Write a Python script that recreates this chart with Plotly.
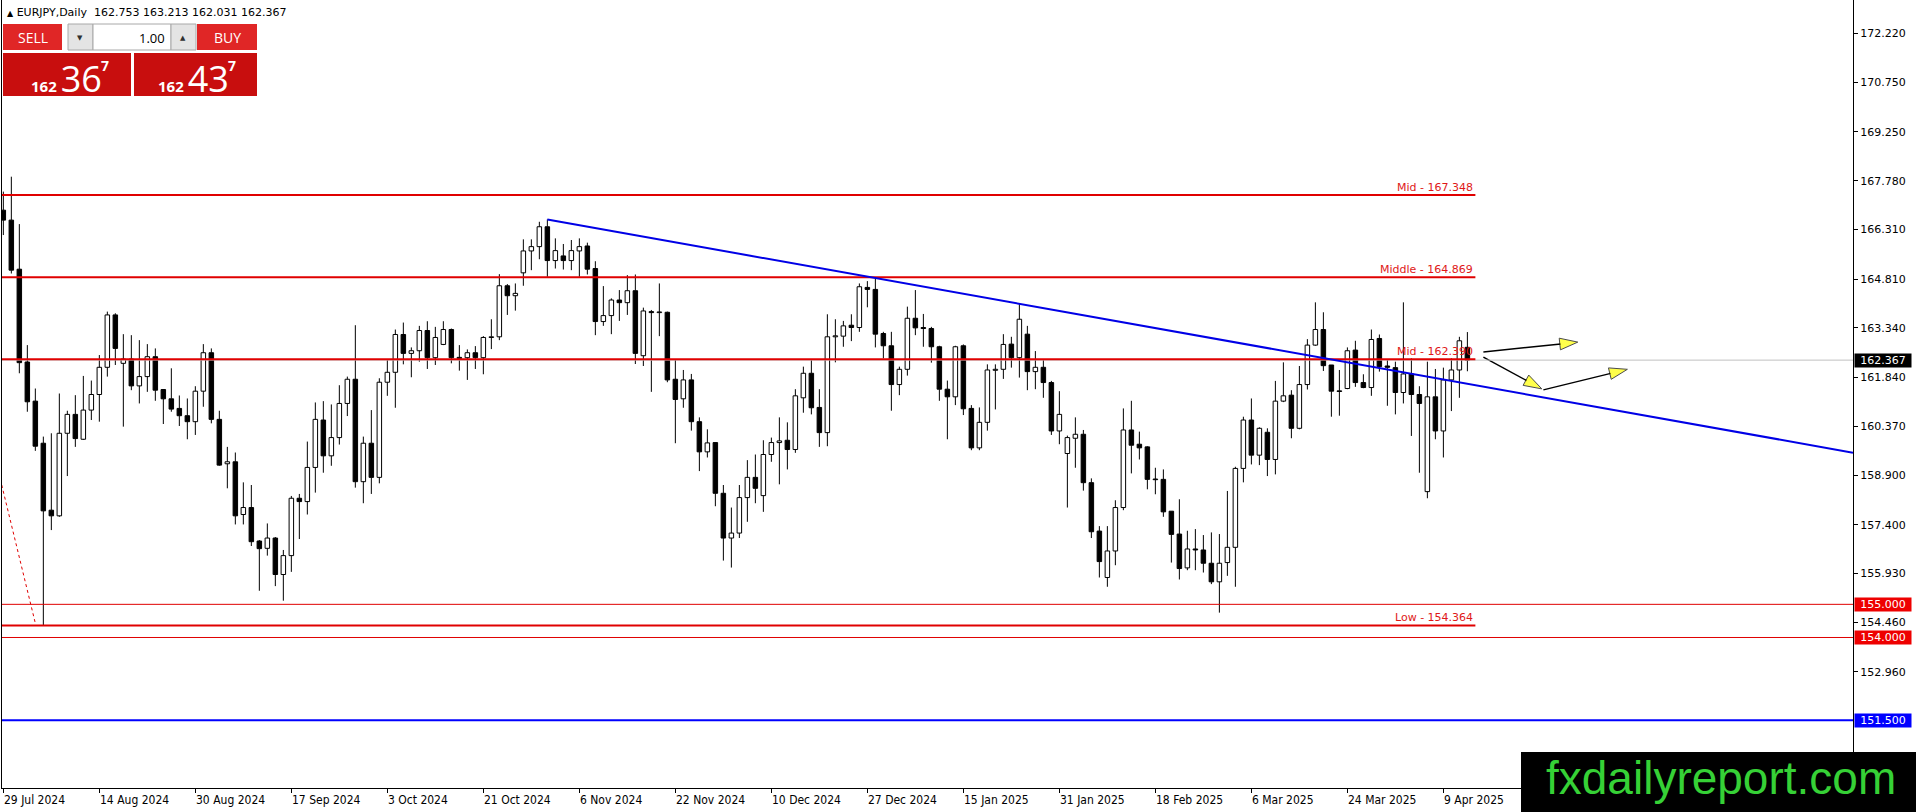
import numpy as np
import plotly.graph_objects as go

# ---------------- data ----------------
symbol = "EURJPY,Daily"

opens = [
    166.89, 166.59, 165.11, 162.31, 161.13, 159.86, 157.84, 157.67, 160.16, 160.73,
    159.98, 160.86, 161.33, 162.15, 163.73, 162.27, 162.40, 161.59, 161.87, 162.47,
    161.48, 161.20, 160.91, 160.69, 160.51, 161.43, 162.59, 160.58, 159.24, 159.30,
    157.71, 157.92, 156.91, 156.69, 157.00, 155.90, 156.47, 158.20, 158.10, 159.13,
    160.56, 159.48, 160.03, 161.06, 161.79, 158.70, 159.86, 158.83, 161.70, 162.00,
    163.14, 162.57, 162.65, 163.26, 162.44, 162.84, 163.29, 162.45, 162.44, 162.59,
    162.44, 163.05, 163.07, 164.61, 164.31, 165.00, 165.66, 165.79, 166.39, 165.37,
    165.51, 165.37, 165.66, 165.81, 165.13, 163.53, 163.71, 164.18, 164.10, 164.46,
    162.50, 163.83, 163.80, 163.81, 161.79, 161.20, 161.77, 160.51, 159.60, 159.88,
    158.35, 157.00, 157.15, 158.22, 158.83, 158.28, 159.52, 159.88, 159.95, 159.67,
    161.23, 161.97, 160.94, 160.18, 163.07, 163.09, 163.42, 163.35, 164.56, 164.50,
    163.17, 162.80, 161.63, 162.09, 163.63, 163.35, 163.32, 162.77, 161.49, 161.26,
    162.80, 160.91, 159.72, 160.49, 162.06, 162.09, 162.85, 162.44, 163.15, 162.02,
    162.15, 161.69, 160.23, 159.55, 160.01, 160.13, 158.67, 157.21, 155.81, 156.61,
    157.92, 160.26, 159.83, 159.75, 158.78, 158.77, 157.81, 157.12, 156.10, 156.67,
    156.64, 156.24, 155.68, 156.26, 156.72, 159.10, 160.56, 159.50, 160.19, 159.37,
    161.13, 161.31, 160.31, 161.63, 162.82, 163.29, 162.22, 161.44, 161.51, 162.67,
    161.69, 161.54, 163.02, 162.19, 162.14, 161.39, 161.95, 161.33, 158.40, 161.26,
    160.23, 161.77, 162.07, 162.753,
]
highs = [
    167.45, 167.90, 166.47, 162.82, 161.51, 160.06, 160.16, 161.36, 160.84, 161.31,
    161.89, 161.75, 162.52, 163.83, 163.78, 163.15, 163.12, 162.97, 162.85, 162.72,
    161.48, 162.12, 161.30, 161.21, 161.58, 162.85, 162.72, 160.84, 159.75, 159.58,
    158.68, 158.60, 156.94, 157.44, 157.03, 156.64, 158.27, 158.33, 159.91, 161.09,
    161.13, 161.03, 161.61, 161.87, 163.42, 160.06, 160.86, 161.82, 162.37, 163.29,
    163.50, 162.75, 163.40, 163.54, 163.37, 163.54, 163.32, 162.82, 162.69, 162.79,
    163.09, 163.60, 164.96, 164.66, 164.68, 166.01, 166.01, 166.54, 166.61, 166.04,
    165.87, 165.99, 166.04, 165.91, 165.35, 164.60, 164.23, 164.48, 164.93, 164.95,
    163.95, 163.88, 164.68, 163.83, 162.39, 162.07, 161.95, 160.64, 160.28, 159.88,
    158.60, 157.92, 158.60, 159.35, 159.52, 159.95, 160.03, 160.64, 160.49, 161.49,
    162.17, 162.37, 161.49, 163.75, 163.60, 163.55, 163.75, 164.68, 164.75, 164.85,
    163.22, 163.22, 162.17, 163.98, 164.48, 163.76, 163.37, 162.80, 161.75, 162.80,
    162.84, 161.01, 160.94, 162.24, 162.24, 163.15, 163.07, 164.06, 163.40, 162.64,
    162.39, 161.74, 161.43, 160.09, 160.64, 160.26, 158.80, 157.36, 157.36, 158.14,
    160.91, 161.14, 160.21, 159.77, 159.12, 159.07, 157.81, 158.17, 157.22, 157.27,
    157.09, 157.17, 157.12, 158.42, 159.15, 160.66, 161.21, 160.34, 160.31, 161.74,
    162.30, 161.46, 162.19, 163.00, 164.11, 163.81, 162.22, 162.07, 162.75, 162.95,
    161.94, 163.29, 163.14, 162.39, 162.32, 164.11, 162.42, 161.58, 162.32, 162.10,
    162.14, 162.42, 163.07, 163.213,
]
lows = [
    166.14, 164.98, 161.97, 160.81, 159.63, 154.364, 157.24, 157.64, 158.87, 159.75,
    159.96, 160.56, 160.51, 161.87, 162.22, 160.36, 161.46, 161.06, 161.41, 161.14,
    160.44, 160.81, 160.38, 159.98, 160.11, 160.96, 160.46, 159.18, 158.50, 157.41,
    157.41, 156.76, 155.41, 156.47, 155.55, 155.11, 155.98, 156.97, 157.71, 158.37,
    158.97, 159.18, 159.82, 160.68, 158.52, 158.05, 158.33, 158.65, 161.29, 160.93,
    162.24, 161.85, 162.32, 162.10, 162.22, 162.82, 162.27, 162.05, 161.77, 162.10,
    161.94, 162.70, 162.97, 163.73, 163.86, 164.61, 165.08, 165.41, 164.88, 165.13,
    165.10, 165.08, 164.88, 164.95, 163.12, 163.40, 163.15, 163.55, 163.73, 162.25,
    162.19, 161.41, 163.09, 161.70, 159.86, 160.93, 160.24, 159.02, 159.43, 157.96,
    156.32, 156.11, 157.00, 157.49, 158.05, 157.79, 159.30, 158.62, 159.07, 159.57,
    160.78, 160.73, 159.75, 159.77, 162.30, 162.77, 162.94, 163.22, 163.96, 162.75,
    162.42, 160.84, 161.31, 161.90, 163.12, 162.77, 162.29, 161.14, 159.98, 161.01,
    160.71, 159.65, 159.65, 160.24, 160.88, 161.80, 162.14, 161.84, 161.46, 161.49,
    161.23, 160.11, 159.83, 157.92, 159.12, 158.43, 157.00, 155.81, 155.53, 156.18,
    157.84, 158.95, 159.37, 158.47, 158.32, 157.64, 156.26, 155.75, 156.03, 156.03,
    155.96, 155.61, 154.75, 155.86, 155.53, 158.68, 159.22, 159.20, 158.87, 158.92,
    161.10, 160.01, 160.28, 161.48, 162.80, 162.04, 160.66, 160.69, 161.49, 161.56,
    161.52, 161.29, 162.02, 160.99, 160.73, 161.06, 160.08, 158.97, 158.20, 159.98,
    159.43, 160.83, 161.23, 162.031,
]
closes = [
    166.59, 165.08, 162.29, 161.11, 159.77, 157.82, 157.67, 160.16, 160.73, 160.00,
    160.86, 161.33, 162.15, 163.73, 162.72, 162.40, 161.59, 161.87, 162.47, 161.46,
    161.20, 160.89, 160.69, 160.51, 161.43, 162.59, 160.58, 159.20, 159.30, 157.67,
    157.92, 156.89, 156.68, 157.00, 155.90, 156.47, 158.20, 158.10, 159.13, 160.58,
    159.48, 160.03, 161.06, 161.79, 158.70, 159.86, 158.83, 161.70, 162.00, 163.14,
    162.57, 162.65, 163.26, 162.44, 163.05, 163.29, 162.44, 162.42, 162.59, 162.44,
    163.05, 163.07, 164.61, 164.31, 164.38, 165.66, 165.79, 166.39, 165.37, 165.67,
    165.37, 165.67, 165.79, 165.11, 163.53, 163.71, 164.18, 164.10, 164.46, 162.57,
    163.85, 163.80, 163.81, 161.77, 161.18, 161.77, 160.51, 159.60, 159.87, 158.35,
    157.00, 157.15, 158.22, 158.83, 158.50, 159.52, 159.88, 159.93, 159.67, 161.29,
    161.97, 160.93, 160.18, 163.07, 163.10, 163.40, 163.35, 164.58, 164.50, 163.15,
    162.80, 161.63, 162.09, 163.63, 163.34, 163.32, 162.77, 161.49, 161.26, 162.77,
    160.90, 159.72, 160.49, 162.07, 162.09, 162.84, 162.44, 163.60, 162.02, 162.15,
    161.69, 160.23, 160.73, 160.03, 160.13, 158.67, 157.19, 156.29, 156.61, 157.92,
    160.26, 159.80, 159.72, 158.77, 158.76, 157.79, 157.11, 156.08, 156.67, 156.64,
    156.24, 155.68, 156.24, 156.72, 159.10, 160.56, 159.50, 160.31, 159.37, 161.13,
    161.29, 160.31, 161.63, 162.82, 163.29, 162.20, 161.43, 161.42, 162.65, 161.69,
    161.54, 162.99, 162.17, 162.15, 161.39, 161.95, 161.33, 161.06, 161.26, 160.23,
    161.77, 162.07, 162.95, 162.367,
]

# date labels under the chart, one every 12 bars starting at bar 0
date_labels = ["29 Jul 2024", "14 Aug 2024", "30 Aug 2024", "17 Sep 2024", "3 Oct 2024",
               "21 Oct 2024", "6 Nov 2024", "22 Nov 2024", "10 Dec 2024", "27 Dec 2024",
               "15 Jan 2025", "31 Jan 2025", "18 Feb 2025", "6 Mar 2025", "24 Mar 2025",
               "9 Apr 2025"]
date_step = 12

price_ticks = [172.220, 170.750, 169.250, 167.780, 166.310, 164.810, 163.340,
               161.840, 160.370, 158.900, 157.400, 155.930, 154.460, 152.960]

level_names = ["Mid", "Middle", "Mid", "Low"]
level_values = [167.348, 164.869, 162.390, 154.364]
support_values = [155.000, 154.000]
blue_level = 151.500
last_price = 162.367
bid_parts = ["162", "36", "7"]
ask_parts = ["162", "43", "7"]
lot_size = "1.00"

# trend line anchors (bar index, price)
trend_x = [68, 184]
trend_y = [166.61, 161.61]
# dotted red line at the far left (bar index, price)
dot_x = [-0.2, 3.96]
dot_y = [158.60, 154.47]
# projection arrows drawn on the right: (bar, price) paths
arrow_paths = [
    ([185.0, 196.8], [162.61, 162.91]),
    ([185.0, 192.3], [162.46, 161.50]),
    ([192.5, 203.0], [161.47, 162.09]),
]

# ---------------- layout geometry ----------------
W, H = 1916, 812
PL, PR, PT, PB = 2, 1853, 0, 788          # plot frame in pixels
X_RANGE = [-0.166, 231.2]
Y_RANGE = [149.46, 173.23]


def fx(px):
    return (px - PL) / (PR - PL)


def fy(py):
    return 1 - (py - PT) / (PB - PT)


RED = "#E00000"
BLUE = "#0000E6"
BASE_FONT = "DejaVu Sans, Verdana, sans-serif"
NARROW_FONT = "Liberation Sans Narrow, DejaVu Sans Condensed, Arial Narrow, sans-serif"
UI_FONT = "Open Sans, Noto Sans, sans-serif"

o = np.array(opens)
h = np.array(highs)
l = np.array(lows)
c = np.array(closes)
idx = np.arange(len(o))
up = c >= o
body_lo = np.minimum(o, c)
body_hi = np.maximum(o, c)
body_h = np.maximum(body_hi - body_lo, 0.02)

# wicks: above and below the body only, so hollow candles stay hollow
wx, wy = [], []
for i in idx:
    wx += [i, i, None, i, i, None]
    wy += [h[i], body_hi[i], None, body_lo[i], l[i], None]

fig = go.Figure()
fig.add_trace(go.Scatter(x=wx, y=wy, mode="lines", line=dict(color="black", width=1),
                         hoverinfo="skip", showlegend=False))
fig.add_trace(go.Bar(x=idx, y=body_h, base=body_lo, width=0.56,
                     marker=dict(color=np.where(up, "white", "black"),
                                 line=dict(color="black", width=1)),
                     hoverinfo="skip", showlegend=False))

shapes = []
annotations = []

# current price line (thin grey)
shapes.append(dict(type="line", xref="paper", yref="y", x0=0, x1=1, y0=last_price, y1=last_price,
                   line=dict(color="#C0C0C0", width=1), layer="above"))
# thin full-width support lines
for v in support_values:
    shapes.append(dict(type="line", xref="paper", yref="y", x0=0, x1=1, y0=v, y1=v,
                       line=dict(color=RED, width=1), layer="above"))
shapes.append(dict(type="line", xref="paper", yref="y", x0=0, x1=1, y0=blue_level, y1=blue_level,
                   line=dict(color="#0000FF", width=2), layer="above"))

# thick named levels, ending at the current bar
level_end = len(opens)
for name, v in zip(level_names, level_values):
    shapes.append(dict(type="line", xref="x", yref="y", x0=X_RANGE[0], x1=level_end, y0=v, y1=v,
                       line=dict(color=RED, width=2), layer="above"))
    annotations.append(dict(x=level_end, y=v, xref="x", yref="y", xanchor="right", yanchor="bottom",
                            text=f"{name} - {v:.3f}", showarrow=False, yshift=-1,
                            font=dict(family=BASE_FONT, size=11, color="#E01818")))

# descending trend line, extended to the right edge
slope = (trend_y[1] - trend_y[0]) / (trend_x[1] - trend_x[0])
t_end = X_RANGE[1]
shapes.append(dict(type="line", xref="x", yref="y", x0=trend_x[0], y0=trend_y[0],
                   x1=t_end, y1=trend_y[0] + slope * (t_end - trend_x[0]),
                   line=dict(color=BLUE, width=2), layer="above"))

fig.add_trace(go.Scatter(x=dot_x, y=dot_y, mode="lines", line=dict(color=RED, width=1, dash="dot"),
                         hoverinfo="skip", showlegend=False))

# projection arrows: black shaft, yellow head
for ax_, ay_ in arrow_paths:
    fig.add_trace(go.Scatter(x=ax_, y=ay_, mode="lines+markers",
                             line=dict(color="black", width=1.5),
                             marker=dict(symbol="arrow", size=[0, 19], angleref="previous",
                                         color="#FFFF00", line=dict(color="black", width=1)),
                             hoverinfo="skip", showlegend=False))

# coloured price boxes on the right axis
for v, col in [(support_values[0], "#EE0000"), (support_values[1], "#EE0000"),
               (blue_level, "#0000FF"), (last_price, "black")]:
    annotations.append(dict(x=1, y=v, xref="paper", yref="y", xanchor="left", yanchor="middle",
                            xshift=1, text=f"{v:.3f}", showarrow=False, bgcolor=col,
                            width=56, height=13, borderpad=0, align="center",
                            font=dict(family=BASE_FONT, size=11, color="white")))

# date labels: text starts at the tick like MT4
tick_idx = [i * date_step for i in range(len(date_labels))]
for t, lab in zip(tick_idx, date_labels):
    annotations.append(dict(x=t, y=0, xref="x", yref="paper", xanchor="left", yanchor="top",
                            yshift=-3, xshift=-1, text=lab, showarrow=False,
                            font=dict(family=NARROW_FONT, size=12, color="black")))

# header line
annotations.append(dict(x=fx(5), y=fy(12), xref="paper", yref="paper", xanchor="left",
                        yanchor="middle", showarrow=False,
                        text=f"<span style='font-size:8px'>▲</span> {symbol}  "
                             f"{opens[-1]:.3f} {highs[-1]:.3f} {lows[-1]:.3f} {closes[-1]:.3f}",
                        font=dict(family=BASE_FONT, size=11, color="black")))


# one-click trading panel
def rect(x0, y0, x1, y1, fill, line_col=None):
    shapes.append(dict(type="rect", xref="paper", yref="paper", x0=fx(x0), x1=fx(x1),
                       y0=fy(y1), y1=fy(y0), fillcolor=fill, layer="above",
                       line=dict(color=line_col or fill, width=1 if line_col else 0)))


def label(x, y, text, size, color, anchor="center", family=UI_FONT):
    annotations.append(dict(x=fx(x), y=fy(y), xref="paper", yref="paper", xanchor=anchor,
                            yanchor="middle", text=text, showarrow=False,
                            font=dict(family=family, size=size, color=color)))


rect(3, 24, 62, 50, "#E02626")
rect(197, 24, 257, 50, "#E02626")
rect(68, 24, 93, 50, "#E4E4E4", "#A8A8A8")
rect(93, 24, 171, 50, "white", "#A8A8A8")
rect(171, 24, 196, 50, "#E4E4E4", "#A8A8A8")
rect(3, 53, 131, 96, "#C80E0E")
rect(134, 53, 257, 96, "#C80E0E")

label(33, 38, "SELL", 14, "white")
label(227, 38, "BUY", 14, "white")
label(80, 38, "▼", 7, "#303030", family=BASE_FONT)
label(183, 38, "▲", 7, "#303030", family=BASE_FONT)
label(167, 38, lot_size, 13, "black", anchor="right")
for x0, parts in [(29, bid_parts), (156, ask_parts)]:
    label(x0, 78, f"<b><span style='font-size:15px'>{parts[0]} </span></b>{parts[1]}", 36,
          "white", anchor="left")
    label(x0 + 76, 66, f"<b>{parts[2]}</b>", 14, "white")

# watermark box bottom-right
shapes.append(dict(type="rect", xref="paper", yref="paper", x0=fx(1521), x1=fx(W + 5),
                   y0=fy(H + 5), y1=fy(752), fillcolor="black", line=dict(width=0), layer="above"))
annotations.append(dict(x=fx(1721), y=fy(778), xref="paper", yref="paper", xanchor="center",
                        yanchor="middle", text="fxdailyreport.com", showarrow=False,
                        font=dict(family="Liberation Sans, Arial, sans-serif", size=46,
                                  color="#36D136")))

fig.update_layout(
    width=W, height=H,
    margin=dict(l=PL, r=W - PR, t=PT, b=H - PB, pad=0, autoexpand=False),
    paper_bgcolor="white", plot_bgcolor="white",
    showlegend=False, barmode="overlay",
    shapes=shapes, annotations=annotations,
    font=dict(family=BASE_FONT, size=11, color="black"),
    xaxis=dict(range=X_RANGE, showgrid=False, zeroline=False, showline=True, linecolor="black",
               linewidth=1, ticks="outside", ticklen=4, tickcolor="black", tickvals=tick_idx,
               showticklabels=False, fixedrange=True),
    yaxis=dict(range=Y_RANGE, side="right", showgrid=False, zeroline=False, showline=True,
               linecolor="black", linewidth=1, mirror=True, ticks="outside", ticklen=4,
               tickcolor="black", tickvals=price_ticks,
               ticktext=[f"{v:.3f}" for v in price_ticks],
               tickfont=dict(family=BASE_FONT, size=11, color="black"), fixedrange=True),
)

# page body margin would shift the 1916x812 figure; remove it
fig.write_html("out.html", config={"displayModeBar": False},
               post_script="document.body.style.margin='0';document.body.style.overflow='hidden';")
